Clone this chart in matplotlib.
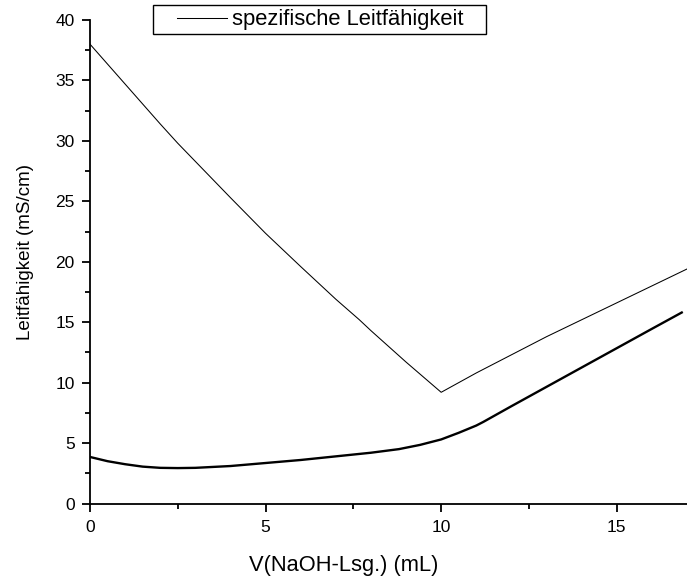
import matplotlib
matplotlib.use("Agg")
import matplotlib.pyplot as plt
from matplotlib.ticker import MultipleLocator
from matplotlib.patches import Rectangle

plt.rcParams['font.family'] = ['Liberation Sans', 'DejaVu Sans']

# upper curve: spezifische Leitfähigkeit
x_spec = [0, 1, 2, 2.5, 3, 4, 5, 6, 7, 7.67, 8, 9, 10, 11, 12, 13, 14, 15, 16, 17]
y_spec = [38.0, 34.7, 31.4, 29.8, 28.3, 25.3, 22.35, 19.6, 16.9, 15.2, 14.3, 11.7, 9.2,
          10.8, 12.3, 13.8, 15.2, 16.6, 18.0, 19.4]

# lower curve (thick)
x_low = [0, 0.5, 1, 1.5, 2, 2.5, 3, 4, 5, 6, 7, 8, 8.8, 9.4, 10, 10.5, 11, 11.2,
         12, 13, 14, 15, 16, 16.85]
y_low = [3.85, 3.5, 3.25, 3.05, 2.95, 2.93, 2.95, 3.1, 3.35, 3.6, 3.9, 4.2, 4.5, 4.85,
         5.3, 5.85, 6.45, 6.75, 8.05, 9.65, 11.25, 12.85, 14.45, 15.8]

legend_label = "spezifische Leitfähigkeit"
xlabel = "V(NaOH-Lsg.) (mL)"
ylabel = "Leitfähigkeit (mS/cm)"

W, H = 687, 582
fig = plt.figure(figsize=(W/100, H/100), dpi=100)
ax = fig.add_axes([90/W, (H-503.5)/H, (W-90)/W, (503.5-20)/H])

ln, = ax.plot(x_spec, y_spec, color='black', lw=0.75, label=legend_label)
ax.plot(x_low, y_low, color='black', lw=1.7)

ax.set_xlim(0, 17)
ax.set_ylim(0, 40)
ax.xaxis.set_major_locator(MultipleLocator(5))
ax.xaxis.set_minor_locator(MultipleLocator(2.5))
ax.yaxis.set_major_locator(MultipleLocator(5))
ax.yaxis.set_minor_locator(MultipleLocator(2.5))
ax.tick_params(which='major', direction='out', length=6, width=1.3, labelsize=12.5)
ax.tick_params(axis='x', which='major', pad=6)
ax.tick_params(axis='y', which='major', pad=5)
ax.tick_params(which='minor', direction='out', length=3.5, width=1.3)
for s in ['top', 'right']:
    ax.spines[s].set_visible(False)
for s in ['left', 'bottom']:
    ax.spines[s].set_linewidth(1.3)

ax.set_xlabel(xlabel, fontsize=15.75, va='top')
ax.xaxis.set_label_coords(0.5, (H-555)/H, transform=fig.transFigure)
ax.set_ylabel(ylabel, fontsize=13.5, va='center')
ax.yaxis.set_label_coords(26/W, (H-252)/H, transform=fig.transFigure)

leg = fig.legend(handles=[ln], loc='upper left', bbox_to_anchor=(173/W, 1-5/H),
                 fontsize=15.8, frameon=False,
                 handlelength=2.24, borderpad=0.2, handletextpad=0.23, borderaxespad=0)
fig.patches.append(Rectangle((153/W, (H-34)/H), (486-153)/W, 29/H,
                             transform=fig.transFigure, fill=False,
                             edgecolor='black', linewidth=1.0))

fig.savefig("out.png", dpi=100)
